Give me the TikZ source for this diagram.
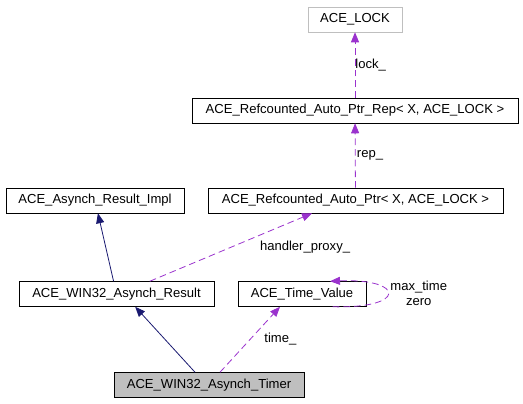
\documentclass[tikz,border=0pt]{standalone}
\usepackage{fontspec}
\setmainfont{Liberation Sans}
\usetikzlibrary{arrows.meta}
\definecolor{inhcol}{HTML}{191970}
\definecolor{usecol}{HTML}{9A32CD}
\definecolor{boxgray}{HTML}{BFBFBF}
\tikzset{
  cls/.style={draw,minimum height=18.75pt,inner sep=0pt,font=\fontsize{9.8}{11.5}\selectfont},
  lbl/.style={inner sep=0pt,text=black,font=\fontsize{9.8}{11.5}\selectfont},
  inherit/.style={inhcol,line width=0.6pt,-{Triangle[length=7.5pt,width=6pt]}},
  member/.style={usecol,line width=0.6pt,dash pattern=on 5pt off 3pt,-{Triangle[length=7.5pt,width=6pt]}}
}
\begin{document}
\begin{tikzpicture}[x=0.75pt,y=-0.75pt]
\useasboundingbox(0,0)rectangle(523,403);
%
\node[cls,draw=boxgray,minimum width=70.5pt](lock)at(355,19.5){ACE\_LOCK};
\node[cls,minimum width=244.5pt](rep)at(355,110.5){ACE\_Refcounted\_Auto\_Ptr\_Rep< X, ACE\_LOCK >};
\node[cls,minimum width=221.25pt](ptr)at(355.5,200.5){ACE\_Refcounted\_Auto\_Ptr< X, ACE\_LOCK >};
\node[cls,minimum width=133.5pt](impl)at(95,200.5){ACE\_Asynch\_Result\_Impl};
\node[cls,minimum width=146.25pt](res)at(116.5,294){ACE\_WIN32\_Asynch\_Result};
\node[cls,minimum width=96pt](tv)at(302,294){ACE\_Time\_Value};
\node[cls,fill=boxgray,minimum width=142.5pt](tmr)at(209,385){ACE\_WIN32\_Asynch\_Timer};
%
\draw[member](rep)--(lock)node[midway,lbl,anchor=west]{lock\_};
\draw[member](ptr)--(rep)node[midway,lbl,anchor=west,xshift=1pt]{rep\_};
\draw[member]([xshift=25pt]res.north)--([xshift=-32.6pt]ptr.south)node[midway,lbl,anchor=west,xshift=21.5pt]{handler\_proxy\_};
\draw[member]([xshift=8.25pt]tmr.north)--([xshift=-16.5pt]tv.south)node[midway,lbl,anchor=west,xshift=10.5pt]{time\_};
\draw[member]([xshift=23pt]tv.south)..controls +(75,2) and +(75,-3)..([xshift=21pt]tv.north)
  node[lbl,align=center,anchor=west]at(390,293){max\_time\\zero};
%
\draw[inherit](res)--(impl);
\draw[inherit]([xshift=-10.5pt]tmr.north)--([xshift=14pt]res.south);
\end{tikzpicture}
\end{document}
